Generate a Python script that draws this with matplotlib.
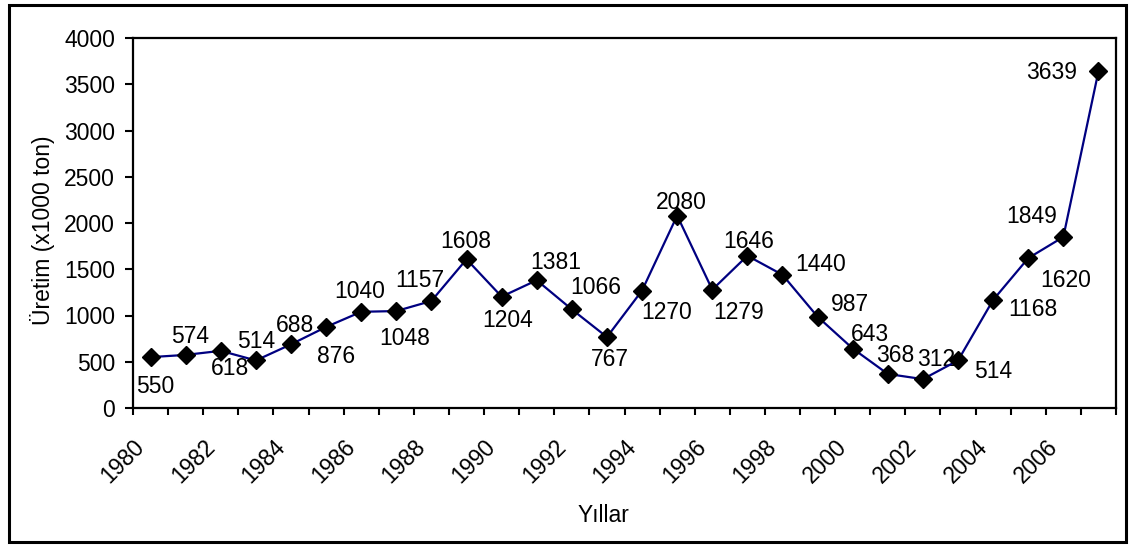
import numpy as np
import matplotlib
matplotlib.use('Agg')
from matplotlib import pyplot as plt
from matplotlib.patches import Rectangle

plt.rcParams['font.family'] = ['Liberation Sans', 'DejaVu Sans']

years = list(range(1980, 2008))
uretim = [550, 574, 618, 514, 688, 876, 1040, 1048, 1157, 1608, 1204, 1381, 1066, 767,
          1270, 2080, 1279, 1646, 1440, 987, 643, 368, 312, 514, 1168, 1620, 1849, 3639]
tick_years = [str(y) for y in range(1980, 2007, 2)]
yticks = list(range(0, 4001, 500))

# label offsets in pixels from the marker (dx right, dy down)
lbl_off = [(5, 28), (4, -20), (9, 16), (0, -20), (4, -20), (10, 28), (-2, -22),
           (8, 26), (-12, -22), (-1, -19), (6, 22), (19, -19), (24, -23), (3, 21),
           (25, 20), (4, -15), (26, 21), (1, -16), (38, -12), (32, -14), (17, -16),
           (7, -20), (13, -21), (35, 10), (40, 8), (37, 21), (-32, -22), (-47, 0)]

W, H = 1131, 545
fs = 16.5
fig = plt.figure(figsize=(W / 100, H / 100), dpi=100)
ax = fig.add_axes([133 / W, 1 - 408 / H, (1116 - 133) / W, (408 - 38) / H])

x = np.arange(len(years)) + 0.5
ax.plot(x, uretim, color='#000080', lw=1.6, marker='D', ms=9.5,
        mfc='black', mec='black', zorder=3, clip_on=False)

for xi, v, (dx, dy) in zip(x, uretim, lbl_off):
    ax.annotate(str(v), (xi, v), xytext=(dx, -dy - 8), textcoords='offset pixels',
                ha='center', va='baseline', fontsize=fs, zorder=2)

ax.set_xlim(0, len(years))
ax.set_ylim(0, 4000)
ax.set_yticks(yticks)
ax.set_yticklabels([str(t) for t in yticks], fontsize=fs)
ax.tick_params(axis='y', direction='out', length=6, width=1.5, pad=7)

ax.set_xticks(np.arange(len(years) + 1))
labels = []
for i in range(len(years) + 1):
    labels.append(str(1980 + i) if (i % 2 == 0 and str(1980 + i) in tick_years) else '')
ax.set_xticklabels(labels, fontsize=fs, rotation=45, ha='right', va='top',
                   rotation_mode='anchor')
ax.tick_params(axis='x', direction='out', length=5, width=1.5, pad=14.5)

for s in ax.spines.values():
    s.set_linewidth(1.6)

ax.set_ylabel('Üretim (x1000 ton)', fontsize=fs)
ax.yaxis.set_label_coords((55 - 133) / (1116 - 133), 0.481)
fig.text(603 / W, 1 - 515 / H, 'Yıllar', ha='center', va='center', fontsize=fs)

fig.patches.append(Rectangle((9 / W, 1 - 542 / H), (1126 - 9) / W, (542 - 5) / H,
                             transform=fig.transFigure, fill=False, lw=2.2,
                             edgecolor='black'))

fig.savefig('out.png', dpi=100)
